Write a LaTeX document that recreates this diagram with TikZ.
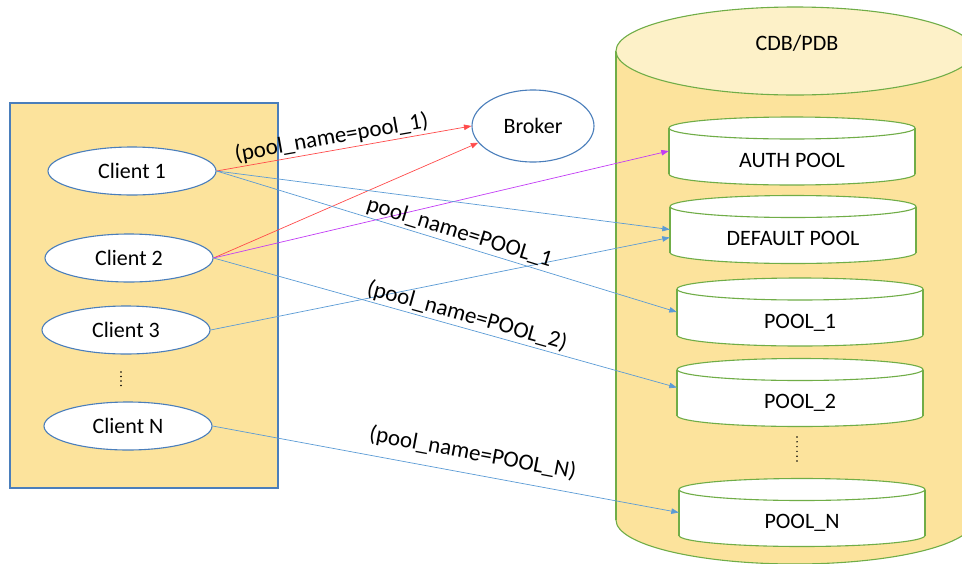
\documentclass[tikz,border=0pt]{standalone}
\usepackage{fontspec}
\setmainfont{Carlito}
\usetikzlibrary{shapes.geometric, arrows.meta}

\definecolor{boxfill}{HTML}{FCE39C}
\definecolor{topfill}{HTML}{FDF1C8}
\definecolor{boxblue}{HTML}{4A7EBB}
\definecolor{dbgreen}{HTML}{70AD47}
\definecolor{linkblue}{HTML}{5B9BD5}
\definecolor{linkred}{HTML}{FF4B4B}
\definecolor{linkviolet}{HTML}{C23CF5}

\tikzset{
  client/.style={ellipse, draw=boxblue, line width=1.1pt, fill=white,
    minimum width=168pt, minimum height=48pt, inner sep=0pt},
  poolline/.style={draw=dbgreen, line width=1.1pt},
  pooltext/.style={rectangle, minimum width=246pt, minimum height=69pt,
    text height=32pt, text depth=0pt},
  link/.style={-{Triangle[length=7.5pt,width=5.5pt]}, line width=0.7pt},
  lbl/.style={inner sep=2pt, sloped, above, text=black,
    font=\fontsize{23}{27}\selectfont},
}

\begin{document}
\begin{tikzpicture}[x=1pt, y=-1pt, font=\fontsize{22}{26}\selectfont]
        \useasboundingbox (0,0) rectangle (962,563);
        \clip (0,0) rectangle (962,563);

        % Clients box
        \draw[boxblue, line width=1.1pt, fill=boxfill] (10,103) rectangle (278,488);
        \foreach \name/\x/\y/\txt in {c1/132/171/Client 1, c2/129/258/Client 2,
                                      c3/126/330/Client 3, cN/128/426/Client N}
            \node[client] (\name) at (\x,\y) {\txt};
        \draw[line width=1.6pt, dash pattern=on 0pt off 4.5pt, line cap=round]
            (121,372) -- (121,389);

        % Broker
        \node[ellipse, draw=boxblue, line width=1.1pt, fill=white,
              minimum width=122pt, minimum height=72pt] (broker) at (533,126) {Broker};

        % CDB/PDB cylinder
        \draw[poolline, fill=boxfill] (795,520) ellipse (179pt and 44pt);
        \fill[boxfill] (616,51) rectangle (974,520);
        \draw[poolline] (616,51) -- (616,520) (974,51) -- (974,520);
        \draw[poolline, fill=topfill] (795,51) ellipse (179pt and 44pt);
        \node (dbname) at (797,43) {CDB/PDB};

        % Pools
        \foreach \name/\x/\y/\txt in {auth/792/151/AUTH POOL, dflt/793/229.5/DEFAULT POOL,
                                      p1/800/312/POOL\_1, p2/800/392.5/POOL\_2,
                                      pN/802/512.5/POOL\_N} {
            \draw[poolline, fill=white] (\x,\y) ++(0,23) ellipse (123pt and 11pt);
            \fill[white] (\x,\y) ++(-123,-23) rectangle ++(246,46);
            \draw[poolline] (\x,\y) ++(-123,-23) -- ++(0,46) ++(246,0) -- ++(0,-46);
            \draw[poolline, fill=white] (\x,\y) ++(0,-23) ellipse (123pt and 11pt);
            \node[pooltext] (\name) at (\x,\y) {\txt};
        }
        \draw[line width=1.6pt, dash pattern=on 0pt off 4.8pt, line cap=round]
            (797,437) -- (797,462);

        % Connections
        \draw[link, linkred] (c1.east) -- node[lbl, pos=0.46] {(pool\_name=pool\_1)} (broker.west);
        \draw[link, linkred] (c2.east) -- (broker.197);
        \draw[link, linkviolet] (c2.east) -- (auth.west);
        \draw[link, linkblue] (c1.east) -- (dflt.west);
        \draw[link, linkblue] (c3.east) -- ([yshift=-8pt]dflt.west);
        \draw[link, linkblue] (c1.east) -- node[lbl, pos=0.52] {pool\_name=POOL\_1} (p1.west);
        \draw[link, linkblue] (c2.east) -- node[lbl, pos=0.54] {(pool\_name=POOL\_2)} ([yshift=5pt]p2.west);
        \draw[link, linkblue] (cN.east) -- node[lbl, pos=0.55, above=8pt] {(pool\_name=POOL\_N)} (pN.west);
\end{tikzpicture}
\end{document}
